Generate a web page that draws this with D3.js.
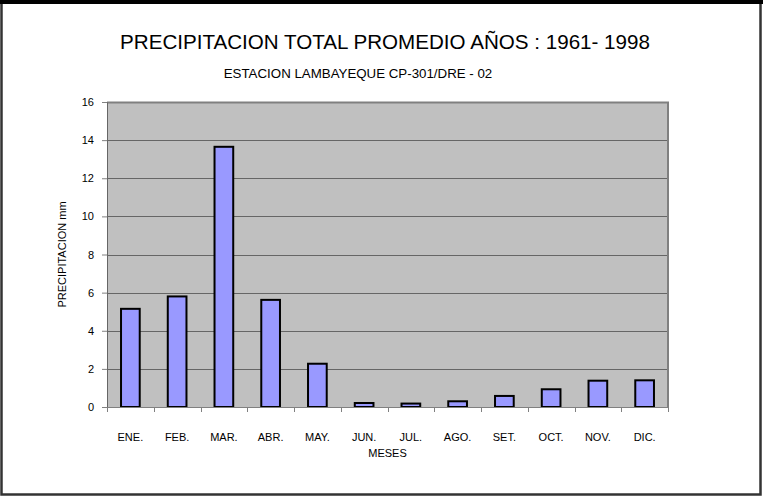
<!DOCTYPE html>
<html>
<head>
<meta charset="utf-8">
<script src="https://cdn.jsdelivr.net/npm/d3@7"></script>
<style>
  html, body { margin: 0; padding: 0; background: #fff; }
  svg { display: block; }
  text { font-family: "Liberation Sans", Arial, sans-serif; fill: #000; }
</style>
</head>
<body>
<svg id="chart" width="763" height="497"></svg>
<script>
// Monthly mean total precipitation (mm), 1961-1998
const months = ["ENE.", "FEB.", "MAR.", "ABR.", "MAY.", "JUN.", "JUL.", "AGO.", "SET.", "OCT.", "NOV.", "DIC."];
const precipitation = [5.15, 5.8, 13.65, 5.62, 2.27, 0.21, 0.18, 0.3, 0.58, 0.93, 1.38, 1.4];
const yTicks = [0, 2, 4, 6, 8, 10, 12, 14, 16];

const titleText = "PRECIPITACION TOTAL PROMEDIO AÑOS : 1961- 1998";
const subtitleText = "ESTACION LAMBAYEQUE CP-301/DRE - 02";
const xTitle = "MESES";
const yTitle = "PRECIPITACION mm";

const W = 763, H = 497;
const plot = { left: 107, right: 668, top: 102, bottom: 407 };

const svg = d3.select("#chart");

// outer frame
svg.append("rect")
  .attr("x", 1.5).attr("y", 1.5)
  .attr("width", W - 4).attr("height", H - 4)
  .attr("fill", "#fff").attr("stroke", "#333").attr("stroke-width", 2.5);
svg.append("rect")
  .attr("x", 0).attr("y", 0).attr("width", W).attr("height", 4)
  .attr("fill", "#000");

const x = d3.scaleBand()
  .domain(months)
  .range([plot.left, plot.right])
  .paddingInner(0.6)
  .paddingOuter(0.3);

const xBounds = d3.scaleLinear()
  .domain([0, months.length])
  .range([plot.left, plot.right]);

const y = d3.scaleLinear()
  .domain([0, 16])
  .range([plot.bottom, plot.top]);

// plot background
svg.append("rect")
  .attr("x", plot.left).attr("y", plot.top)
  .attr("width", plot.right - plot.left).attr("height", plot.bottom - plot.top)
  .attr("fill", "#c0c0c0");

// horizontal gridlines
svg.append("g")
  .selectAll("line")
  .data(yTicks.filter(d => d > 0 && d < 16))
  .join("line")
  .attr("x1", plot.left).attr("x2", plot.right)
  .attr("y1", d => Math.round(y(d)) + 0.5).attr("y2", d => Math.round(y(d)) + 0.5)
  .attr("stroke", "#666").attr("stroke-width", 1);

// plot border (top and right)
svg.append("path")
  .attr("d", `M${plot.left},${plot.top + 0.5}H${plot.right}V${plot.bottom}`)
  .attr("fill", "none").attr("stroke", "#808080").attr("stroke-width", 2);

// bars
svg.append("g")
  .selectAll("rect")
  .data(months.map((m, i) => ({ m, v: precipitation[i] })))
  .join("rect")
  .attr("x", d => x(d.m))
  .attr("y", d => y(d.v))
  .attr("width", x.bandwidth())
  .attr("height", d => y(0) - y(d.v))
  .attr("fill", "#9999ff")
  .attr("stroke", "#000")
  .attr("stroke-width", 2);

// y axis
const yAxis = svg.append("g")
  .attr("transform", `translate(${plot.left},0)`)
  .call(d3.axisLeft(y).tickValues(yTicks).tickSize(5).tickPadding(8).tickFormat(d3.format("d")));
yAxis.select(".domain").attr("stroke", "#666").attr("stroke-width", 1);
yAxis.selectAll(".tick line").attr("stroke", "#808080");
yAxis.selectAll(".tick text")
  .style("font-family", '"Liberation Sans", Arial, sans-serif')
  .style("font-size", "11px").attr("fill", "#000");

// x axis line and category boundary ticks
const xAxisG = svg.append("g");
xAxisG.append("line")
  .attr("x1", plot.left - 5).attr("x2", plot.right)
  .attr("y1", plot.bottom + 0.5).attr("y2", plot.bottom + 0.5)
  .attr("stroke", "#808080");
xAxisG.selectAll("line.bound")
  .data(d3.range(months.length + 1))
  .join("line")
  .attr("class", "bound")
  .attr("x1", d => Math.round(xBounds(d)) + 0.5).attr("x2", d => Math.round(xBounds(d)) + 0.5)
  .attr("y1", plot.bottom).attr("y2", plot.bottom + 5)
  .attr("stroke", "#808080");

// month labels
svg.append("g")
  .selectAll("text")
  .data(months)
  .join("text")
  .attr("x", d => x(d) + x.bandwidth() / 2)
  .attr("y", 441)
  .attr("text-anchor", "middle")
  .style("font-size", "11px")
  .text(d => d);

// axis titles
svg.append("text")
  .attr("x", (plot.left + plot.right) / 2)
  .attr("y", 457)
  .attr("text-anchor", "middle")
  .style("font-size", "11px")
  .text(xTitle);

svg.append("text")
  .attr("transform", `translate(66,${(plot.top + plot.bottom) / 2}) rotate(-90)`)
  .attr("text-anchor", "middle")
  .style("font-size", "11px")
  .text(yTitle);

// titles
svg.append("text")
  .attr("x", 385)
  .attr("y", 49)
  .attr("text-anchor", "middle")
  .style("font-size", "20.6px")
  .text(titleText);

svg.append("text")
  .attr("x", 358)
  .attr("y", 78)
  .attr("text-anchor", "middle")
  .style("font-size", "13.3px")
  .text(subtitleText);
</script>
</body>
</html>
